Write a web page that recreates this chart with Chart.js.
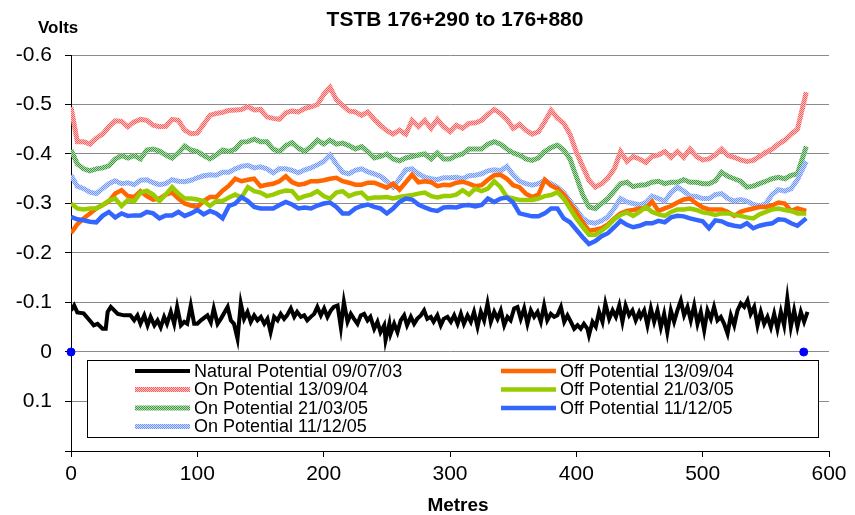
<!DOCTYPE html>
<html>
<head>
<meta charset="utf-8">
<script src="https://cdn.jsdelivr.net/npm/chart.js@4"></script>
<style>
  html, body { margin: 0; padding: 0; background: #fff; }
  canvas { display: block; }
</style>
</head>
<body>
<canvas id="potentialChart" width="855" height="515"></canvas>
<script>
/* ---------------- DATA ---------------- */
// chainage in metres (5 m steps) shared by the on/off survey lines
const metres = [
  0, 5, 10, 15, 20, 25, 30, 35, 40, 45, 50, 55, 60, 65, 70, 75, 80, 85, 90, 95,
  100, 105, 110, 115, 120, 125, 130, 135, 140, 145, 150, 155, 160, 165, 170, 175, 180, 185, 190, 195,
  200, 205, 210, 215, 220, 225, 230, 235, 240, 245, 250, 255, 260, 265, 270, 275, 280, 285, 290, 295,
  300, 305, 310, 315, 320, 325, 330, 335, 340, 345, 350, 355, 360, 365, 370, 375, 380, 385, 390, 395,
  400, 405, 410, 415, 420, 425, 430, 435, 440, 445, 450, 455, 460, 465, 470, 475, 480, 485, 490, 495,
  500, 505, 510, 515, 520, 525, 530, 535, 540, 545, 550, 555, 560, 565, 570, 575, 582
];

const onPotential130904 = [
  -0.495, -0.425, -0.425, -0.42, -0.432, -0.44, -0.455, -0.467, -0.466, -0.455, -0.465, -0.47, -0.468, -0.458, -0.455, -0.456, -0.47, -0.468, -0.448, -0.441,
  -0.442, -0.46, -0.478, -0.482, -0.484, -0.488, -0.489, -0.49, -0.496, -0.489, -0.49, -0.475, -0.472, -0.47, -0.483, -0.487, -0.485, -0.492, -0.495, -0.5,
  -0.52, -0.535, -0.51, -0.498, -0.487, -0.485, -0.478, -0.485, -0.47, -0.458, -0.447, -0.44, -0.448, -0.44, -0.468, -0.455, -0.468, -0.452, -0.47, -0.455,
  -0.445, -0.458, -0.452, -0.462, -0.463, -0.468, -0.48, -0.49, -0.482, -0.47, -0.452, -0.46, -0.448, -0.44, -0.445, -0.465, -0.488, -0.473, -0.462, -0.44,
  -0.404, -0.375, -0.347, -0.333, -0.34, -0.352, -0.37, -0.405, -0.385, -0.395, -0.39, -0.383, -0.395, -0.398, -0.405, -0.393, -0.405, -0.393, -0.41, -0.395,
  -0.388, -0.39, -0.398, -0.41, -0.397, -0.393, -0.388, -0.385, -0.387, -0.395, -0.403, -0.41, -0.42, -0.428, -0.44, -0.45, -0.525
];

const onPotential210305 = [
  -0.408, -0.38, -0.37, -0.366, -0.37, -0.372, -0.376, -0.39, -0.397, -0.392, -0.397, -0.39, -0.408, -0.41, -0.406, -0.398, -0.392, -0.402, -0.416, -0.408,
  -0.405, -0.397, -0.39, -0.398, -0.408, -0.405, -0.41, -0.424, -0.425, -0.43, -0.425, -0.425, -0.41, -0.405, -0.417, -0.423, -0.412, -0.405, -0.415, -0.428,
  -0.42, -0.428, -0.42, -0.422, -0.417, -0.41, -0.415, -0.405, -0.392, -0.395, -0.4, -0.39, -0.386, -0.392, -0.395, -0.398, -0.4, -0.39, -0.402, -0.39,
  -0.39, -0.397, -0.4, -0.41, -0.41, -0.41, -0.42, -0.425, -0.42, -0.41, -0.402, -0.398, -0.39, -0.387, -0.392, -0.405, -0.413, -0.418, -0.408, -0.39,
  -0.354, -0.318, -0.293, -0.29, -0.3, -0.31, -0.325, -0.34, -0.343, -0.334, -0.337, -0.338, -0.343, -0.345, -0.34, -0.343, -0.343, -0.348, -0.343, -0.343,
  -0.34, -0.34, -0.346, -0.363, -0.355, -0.35, -0.345, -0.333, -0.335, -0.34, -0.345, -0.35, -0.353, -0.35, -0.357, -0.36, -0.415
];

const onPotential111205 = [
  -0.357, -0.335, -0.33, -0.323, -0.32, -0.33, -0.34, -0.346, -0.34, -0.342, -0.338, -0.347, -0.348, -0.342, -0.338, -0.34, -0.348, -0.345, -0.344, -0.347,
  -0.352, -0.356, -0.358, -0.357, -0.363, -0.363, -0.37, -0.375, -0.377, -0.372, -0.374, -0.37, -0.362, -0.37, -0.37, -0.367, -0.362, -0.368, -0.372, -0.378,
  -0.385, -0.398, -0.38, -0.363, -0.36, -0.367, -0.37, -0.364, -0.36, -0.355, -0.345, -0.333, -0.35, -0.368, -0.37, -0.36, -0.353, -0.35, -0.348, -0.352,
  -0.352, -0.353, -0.35, -0.356, -0.357, -0.36, -0.366, -0.368, -0.366, -0.375, -0.358, -0.345, -0.34, -0.337, -0.34, -0.347, -0.34, -0.333, -0.322, -0.305,
  -0.288, -0.27, -0.262, -0.26, -0.265, -0.273, -0.29, -0.31, -0.303, -0.3, -0.297, -0.302, -0.315, -0.31, -0.305, -0.322, -0.333, -0.325, -0.315, -0.314,
  -0.31, -0.31, -0.318, -0.32, -0.31, -0.305, -0.308, -0.305, -0.298, -0.295, -0.3, -0.318, -0.328, -0.325, -0.33, -0.348, -0.385
];

const offPotential130904 = [
  -0.24, -0.258, -0.27, -0.28, -0.29, -0.297, -0.304, -0.32, -0.327, -0.315, -0.313, -0.325, -0.315, -0.308, -0.31, -0.318, -0.322, -0.31, -0.3, -0.296,
  -0.293, -0.305, -0.313, -0.313, -0.326, -0.336, -0.35, -0.345, -0.348, -0.35, -0.335, -0.338, -0.34, -0.345, -0.355, -0.343, -0.338, -0.34, -0.345, -0.345,
  -0.347, -0.35, -0.352, -0.345, -0.342, -0.338, -0.338, -0.342, -0.342, -0.337, -0.332, -0.34, -0.328, -0.343, -0.358, -0.343, -0.345, -0.343, -0.335, -0.338,
  -0.337, -0.342, -0.344, -0.34, -0.335, -0.337, -0.348, -0.357, -0.358, -0.35, -0.337, -0.333, -0.32, -0.313, -0.318, -0.348, -0.336, -0.33, -0.318, -0.3,
  -0.283, -0.262, -0.245, -0.247, -0.25, -0.258, -0.27, -0.28, -0.285, -0.287, -0.29, -0.29, -0.304, -0.285, -0.29, -0.295, -0.302, -0.308, -0.31, -0.3,
  -0.292, -0.288, -0.288, -0.288, -0.283, -0.275, -0.283, -0.287, -0.29, -0.293, -0.293, -0.296, -0.302, -0.3, -0.285, -0.29, -0.285
];

const offPotential210305 = [
  -0.3, -0.29, -0.288, -0.29, -0.29, -0.297, -0.306, -0.31, -0.295, -0.307, -0.304, -0.322, -0.326, -0.318, -0.305, -0.318, -0.333, -0.32, -0.31, -0.31,
  -0.308, -0.305, -0.295, -0.305, -0.305, -0.312, -0.318, -0.312, -0.333, -0.325, -0.322, -0.315, -0.318, -0.323, -0.326, -0.325, -0.31, -0.315, -0.318, -0.325,
  -0.315, -0.31, -0.322, -0.325, -0.315, -0.32, -0.322, -0.31, -0.312, -0.312, -0.313, -0.31, -0.313, -0.315, -0.317, -0.32, -0.322, -0.315, -0.312, -0.315,
  -0.315, -0.318, -0.327, -0.318, -0.33, -0.325, -0.33, -0.345, -0.333, -0.313, -0.31, -0.307, -0.307, -0.307, -0.31, -0.315, -0.317, -0.323, -0.31, -0.29,
  -0.27, -0.253, -0.237, -0.237, -0.245, -0.255, -0.268, -0.277, -0.282, -0.275, -0.283, -0.293, -0.283, -0.278, -0.275, -0.283, -0.288, -0.288, -0.29, -0.287,
  -0.282, -0.28, -0.277, -0.28, -0.28, -0.277, -0.275, -0.272, -0.27, -0.278, -0.283, -0.288, -0.29, -0.287, -0.285, -0.28, -0.28
];

const offPotential111205 = [
  -0.273, -0.268, -0.266, -0.263, -0.262, -0.275, -0.283, -0.272, -0.28, -0.275, -0.276, -0.276, -0.283, -0.28, -0.27, -0.276, -0.276, -0.283, -0.275, -0.28,
  -0.287, -0.278, -0.285, -0.28, -0.27, -0.295, -0.3, -0.313, -0.305, -0.293, -0.29, -0.29, -0.29, -0.297, -0.303, -0.298, -0.29, -0.292, -0.29, -0.296,
  -0.3, -0.302, -0.293, -0.28, -0.28, -0.29, -0.295, -0.298, -0.293, -0.29, -0.28, -0.29, -0.303, -0.31, -0.308, -0.298, -0.292, -0.287, -0.285, -0.292,
  -0.293, -0.292, -0.296, -0.297, -0.294, -0.297, -0.31, -0.303, -0.31, -0.312, -0.302, -0.28, -0.277, -0.274, -0.274, -0.28, -0.29, -0.29, -0.27, -0.262,
  -0.247, -0.232, -0.218, -0.224, -0.234, -0.24, -0.252, -0.265, -0.257, -0.252, -0.255, -0.26, -0.26, -0.265, -0.262, -0.272, -0.275, -0.274, -0.27, -0.267,
  -0.264, -0.25, -0.266, -0.264, -0.258, -0.255, -0.253, -0.26, -0.25, -0.255, -0.258, -0.26, -0.268, -0.267, -0.26, -0.255, -0.27
];

// natural potential was read at a finer spacing
const naturalM = [
  0, 2.5, 5, 10, 15.7, 18, 21, 25, 27.5, 29, 31.5, 37, 42, 47, 50, 52.6, 55, 58, 60.6, 63,
  66, 68.5, 71, 73.7, 76, 79, 81.7, 84, 87, 89.6, 92, 94.8, 97.5, 100, 102.8, 108, 110.7, 113, 116, 118.6,
  124, 126.5, 129, 131.8, 134.4, 137, 139.7, 142.3, 145, 147.6, 150.3, 153, 155.5, 158, 160.8, 163.5, 166, 168.7, 171, 174,
  176.7, 179, 182, 184.6, 187, 189.8, 192.5, 195, 197.8, 200.4, 203, 205.7, 208, 211, 213.6, 216, 218.9, 221.5, 224, 226.8,
  229.4, 232, 234.7, 237, 240, 242.6, 245, 247.9, 249, 252, 253, 255.8, 258.4, 261, 263.7, 266, 269, 271.6, 274, 276.9,
  279.5, 282, 284.8, 287, 290, 292.7, 295, 298, 300.7, 303.3, 306, 308.6, 311, 313.9, 316.5, 319, 321.8, 324.4, 327, 329.7,
  332.3, 335, 337.6, 340.2, 342.9, 345.5, 348, 350.8, 353.4, 356, 358.7, 361.3, 364, 366.6, 369.3, 371.9, 374.5, 377, 379.8, 382.5,
  385, 387.8, 390.4, 393, 395.7, 398.3, 401, 403.5, 406, 408.8, 410, 412.8, 415.4, 418, 420.7, 423, 426, 428.7, 431.3, 434,
  436.5, 439, 441.8, 444.4, 447, 449.7, 451, 453.7, 456.3, 459, 461.6, 464.2, 466.9, 469.5, 472, 474.8, 477.4, 480, 482.7, 485.3,
  488, 490.6, 493.3, 495.9, 498.5, 501.2, 503.8, 506.5, 509, 511.7, 514.4, 517, 519.7, 522.3, 525, 527.6, 530.2, 532.9, 535.5, 538,
  540.8, 543.4, 546, 548.7, 551.3, 554, 556.6, 559.2, 561.9, 564.5, 567, 569.8, 572.4, 575, 577.7, 580.3, 583
];
const naturalV = [
  -0.084, -0.094, -0.08, -0.078, -0.061, -0.054, -0.057, -0.047, -0.047, -0.081, -0.091, -0.077, -0.074, -0.074, -0.064, -0.074, -0.057, -0.074, -0.054, -0.071,
  -0.054, -0.064, -0.05, -0.071, -0.057, -0.081, -0.057, -0.091, -0.054, -0.061, -0.057, -0.094, -0.057, -0.057, -0.064, -0.074, -0.06, -0.088, -0.057, -0.067,
  -0.091, -0.064, -0.057, -0.027, -0.098, -0.067, -0.081, -0.061, -0.074, -0.064, -0.071, -0.057, -0.067, -0.04, -0.071, -0.064, -0.077, -0.067, -0.074, -0.088,
  -0.071, -0.081, -0.071, -0.074, -0.064, -0.071, -0.077, -0.091, -0.074, -0.088, -0.071, -0.084, -0.091, -0.094, -0.05, -0.101, -0.061, -0.077, -0.067, -0.057,
  -0.074, -0.077, -0.064, -0.071, -0.047, -0.061, -0.04, -0.054, -0.024, -0.057, -0.037, -0.057, -0.04, -0.064, -0.074, -0.054, -0.071, -0.057, -0.067, -0.074,
  -0.084, -0.067, -0.071, -0.061, -0.074, -0.054, -0.067, -0.071, -0.061, -0.074, -0.057, -0.077, -0.057, -0.074, -0.061, -0.081, -0.051, -0.081, -0.064, -0.098,
  -0.061, -0.081, -0.067, -0.084, -0.054, -0.071, -0.064, -0.088, -0.091, -0.067, -0.088, -0.057, -0.084, -0.071, -0.081, -0.061, -0.094, -0.064, -0.077, -0.071,
  -0.074, -0.091, -0.061, -0.074, -0.061, -0.047, -0.054, -0.047, -0.057, -0.047, -0.034, -0.061, -0.051, -0.081, -0.061, -0.098, -0.067, -0.084, -0.071, -0.094,
  -0.061, -0.094, -0.074, -0.084, -0.064, -0.08, -0.071, -0.084, -0.054, -0.088, -0.061, -0.084, -0.05, -0.077, -0.04, -0.084, -0.061, -0.084, -0.104, -0.074,
  -0.091, -0.064, -0.094, -0.057, -0.081, -0.044, -0.084, -0.067, -0.091, -0.064, -0.071, -0.057, -0.037, -0.074, -0.054, -0.084, -0.098, -0.091, -0.104, -0.077,
  -0.091, -0.054, -0.081, -0.057, -0.071, -0.05, -0.077, -0.047, -0.081, -0.054, -0.108, -0.051, -0.084, -0.051, -0.081, -0.061, -0.081
];

// the two blue reference markers on the zero line
const markerM = [0, 580];
const markerV = [0, 0];

const yTicks = [-0.6, -0.5, -0.4, -0.3, -0.2, -0.1, 0, 0.1];
const xTicks = [0, 100, 200, 300, 400, 500, 600];

/* ---------------- HELPERS ---------------- */
const FONT = "'Liberation Sans', Arial, Helvetica, sans-serif";

// checkered pattern to mimic the Excel "on potential" line fill
function checker(dark, light) {
  const c = document.createElement("canvas");
  c.width = 2; c.height = 2;
  const g = c.getContext("2d");
  g.fillStyle = light; g.fillRect(0, 0, 2, 2);
  g.fillStyle = dark; g.fillRect(0, 0, 1, 1); g.fillRect(1, 1, 1, 1);
  return g.createPattern(c, "repeat");
}

function pts(xs, ys) {
  return xs.map((x, i) => ({ x, y: ys[i] }));
}

const series = [
  { label: "Natural Potential 09/07/03", xs: naturalM, ys: naturalV, color: "#000000", width: 4 },
  { label: "On Potential 13/09/04", xs: metres, ys: onPotential130904, color: checker("#ff5c5c", "#ffc4c4"), width: 5 },
  { label: "On Potential 21/03/05", xs: metres, ys: onPotential210305, color: checker("#3c9a3c", "#b5dcb5"), width: 5 },
  { label: "On Potential 11/12/05", xs: metres, ys: onPotential111205, color: checker("#6b93ff", "#cddbff"), width: 5 },
  { label: "Off Potential 13/09/04", xs: metres, ys: offPotential130904, color: "#ff6600", width: 4.5 },
  { label: "Off Potential 21/03/05", xs: metres, ys: offPotential210305, color: "#99cc00", width: 4.5 },
  { label: "Off Potential 11/12/05", xs: metres, ys: offPotential111205, color: "#3366ff", width: 4.5 },
];

const datasets = series.map((s, i) => ({
  label: s.label,
  data: pts(s.xs, s.ys),
  borderColor: s.color,
  borderWidth: s.width,
  pointRadius: 0,
  tension: 0,
  order: series.length - i, // later series on top, like Excel
}));

datasets.push({
  label: "markers",
  data: pts(markerM, markerV),
  showLine: false,
  pointRadius: 4,
  pointBackgroundColor: "#0000ff",
  pointBorderColor: "#0000ff",
  clip: false,
  order: 0,
});

/* ---------------- OVERLAY (legend box + titles) ---------------- */
const overlay = {
  id: "overlay",
  afterDatasetsDraw(chart) {
    const c = chart.ctx;
    c.save();
    // legend box
    c.fillStyle = "#fff";
    c.fillRect(87.5, 360.5, 731, 77);
    c.strokeStyle = "#000";
    c.lineWidth = 1;
    c.strokeRect(87.5, 360.5, 731, 77);

    const rows = [371, 389.5, 408, 426.5];
    const cols = [135, 501];
    // column-major like the original legend: 4 left, 3 right
    const slots = [[0, 0], [0, 1], [0, 2], [0, 3], [1, 0], [1, 1], [1, 2]];
    c.font = "18px " + FONT;
    c.textBaseline = "middle";
    c.textAlign = "left";
    series.forEach((s, i) => {
      const [ci, ri] = slots[i];
      const x = cols[ci], y = rows[ri];
      c.strokeStyle = s.color;
      c.lineWidth = s.width;
      c.beginPath();
      c.moveTo(x, y);
      c.lineTo(x + 55, y);
      c.stroke();
      c.fillStyle = "#000";
      c.fillText(s.label, x + 59, y + 1);
    });
    c.restore();
  },
  afterDraw(chart) {
    const c = chart.ctx;
    c.save();
    c.fillStyle = "#000";
    c.textBaseline = "middle";
    c.textAlign = "center";
    c.font = "bold 21px " + FONT;
    c.fillText("TSTB 176+290 to 176+880", 455, 20);
    c.font = "bold 19px " + FONT;
    c.fillText("Metres", 458, 506);
    c.font = "bold 17px " + FONT;
    c.textAlign = "left";
    c.fillText("Volts", 38, 28);
    c.restore();
  },
};

/* ---------------- CHART ---------------- */
const ctx = document.getElementById("potentialChart").getContext("2d");

new Chart(ctx, {
  type: "line",
  data: { datasets },
  options: {
    responsive: false,
    animation: false,
    events: [],
    layout: { padding: { top: 55, right: 26, left: 0, bottom: 0 } },
    plugins: {
      legend: { display: false },
      title: { display: false },
      tooltip: { enabled: false },
    },
    scales: {
      x: {
        type: "linear",
        min: 0,
        max: 600,
        afterBuildTicks: (s) => { s.ticks = xTicks.map((v) => ({ value: v })); },
        afterFit: (s) => { s.height = 64; },
        ticks: { color: "#000", font: { family: FONT, size: 21 }, padding: 5, maxRotation: 0 },
        grid: { drawOnChartArea: false, tickLength: 6, tickColor: "#000" },
        border: { color: "#000", width: 1 },
      },
      y: {
        reverse: true,
        min: -0.6,
        max: 0.2,
        afterBuildTicks: (s) => { s.ticks = yTicks.concat([0.2]).map((v) => ({ value: v })); },
        afterFit: (s) => { s.width = 71; },
        ticks: {
          color: "#000",
          font: { family: FONT, size: 21 },
          padding: 13,
          callback: (v) => (yTicks.includes(v) ? String(v) : ""),
        },
        grid: { color: "#8a8a8a", tickLength: 6, tickColor: "#000" },
        border: { color: "#000", width: 1 },
      },
    },
  },
  plugins: [overlay],
});
</script>
</body>
</html>
